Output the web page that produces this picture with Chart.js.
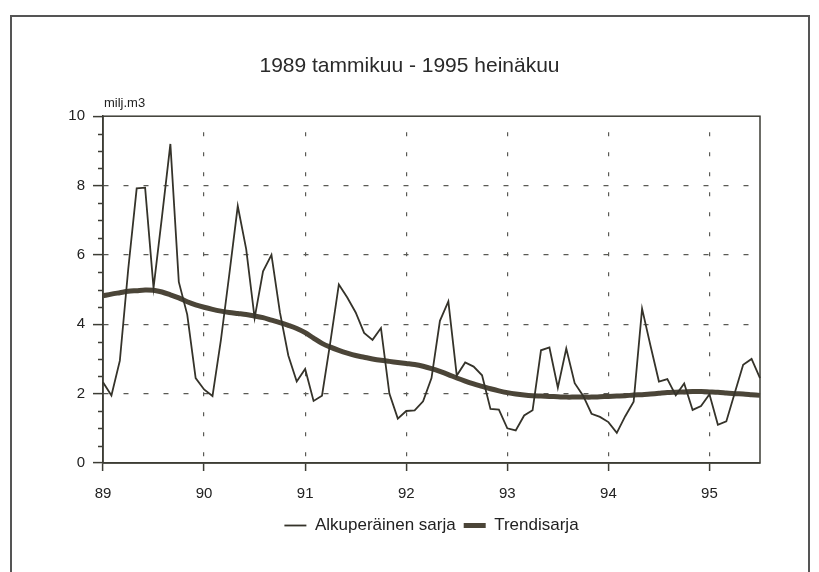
<!DOCTYPE html>
<html>
<head>
<meta charset="utf-8">
<script src="https://cdn.jsdelivr.net/npm/chart.js@4/dist/chart.umd.min.js"></script>
<style>
  html, body { margin: 0; padding: 0; background: #fff; overflow: hidden; }
  #wrap { position: relative; width: 819px; height: 572px; }
  canvas { position: absolute; left: 0; top: 0; }
  #frame { position: absolute; left: 10px; top: 15px; width: 796px; height: 620px;
           border: 2px solid #555; border-bottom: none; pointer-events: none; }
</style>
</head>
<body>
<div id="wrap">
  <canvas id="c" width="819" height="572"></canvas>
  <div id="frame"></div>
</div>
<script>
// ---- data ----
const titleText = '1989 tammikuu - 1995 heinäkuu';
const unitLabel = 'milj.m3';
const yearTicks = ['89', '90', '91', '92', '93', '94', '95'];
const seriesNames = ['Alkuperäinen sarja', 'Trendisarja'];
const monthsPerYear = 12;
const monthCount = 79; // 1989-01 .. 1995-07
const months = [];
for (let i = 0; i < monthCount; i++) {
  months.push(String(1989 + Math.floor(i / 12)) + '-' + String(i % 12 + 1).padStart(2, '0'));
}
const original = [
  2.33, 1.95, 2.95, 5.6, 7.92, 7.94, 5.05, 7.1, 9.2, 5.22,
  4.28, 2.45, 2.12, 1.93, 3.55, 5.45, 7.41, 6.17, 4.18, 5.53,
  6.0, 4.35, 3.1, 2.35, 2.71, 1.79, 1.94, 3.5, 5.15, 4.77,
  4.34, 3.75, 3.55, 3.89, 2.0, 1.28, 1.5, 1.52, 1.78, 2.45,
  4.1, 4.66, 2.52, 2.9, 2.78, 2.53, 1.56, 1.54, 1.0, 0.94,
  1.37, 1.52, 3.25, 3.33, 2.17, 3.3, 2.3, 1.94, 1.42, 1.33,
  1.18, 0.87, 1.35, 1.77, 4.45, 3.38, 2.35, 2.42, 1.95, 2.29,
  1.53, 1.64, 1.98, 1.1, 1.2, 2.02, 2.83, 3.0, 2.45
];
const trend = [
  4.82, 4.87, 4.91, 4.95, 4.97, 4.99, 4.98, 4.93, 4.85, 4.76,
  4.65, 4.56, 4.49, 4.43, 4.38, 4.34, 4.31, 4.28, 4.24, 4.19,
  4.12, 4.05, 3.97, 3.88, 3.76, 3.60, 3.45, 3.34, 3.25, 3.17,
  3.10, 3.05, 3.00, 2.96, 2.93, 2.90, 2.87, 2.84, 2.79, 2.72,
  2.64, 2.55, 2.45, 2.36, 2.28, 2.21, 2.14, 2.08, 2.03, 1.99,
  1.96, 1.94, 1.93, 1.92, 1.91, 1.90, 1.90, 1.90, 1.90, 1.91,
  1.92, 1.93, 1.94, 1.96, 1.97, 1.99, 2.01, 2.03, 2.04, 2.05,
  2.06, 2.06, 2.05, 2.04, 2.02, 2.00, 1.99, 1.97, 1.95
];
const yMin = 0, yMax = 10, yMinorStep = 0.5, yMajorStep = 2;

// ---- styles ----
const fam = "'Liberation Sans', Arial, Helvetica, sans-serif";
const axisColor = '#3d3d35';
const gridColor = '#5a5a55';
const textColor = '#222';
const thinColor = '#35332a';
const thickColor = '#4b4538';

const extras = {
  id: 'extras',
  beforeDatasetsDraw(chart) {
    const { ctx, chartArea: a, scales: { y } } = chart;
    ctx.save();
    ctx.strokeStyle = axisColor;
    ctx.lineWidth = 1.5;
    ctx.strokeRect(a.left, a.top, a.right - a.left, a.bottom - a.top);
    for (const t of y.ticks) {
      if (Math.abs(t.value % yMajorStep) > 1e-6) {
        const py = Math.round(y.getPixelForValue(t.value)) + 0.5;
        ctx.beginPath();
        ctx.moveTo(a.left - 5, py);
        ctx.lineTo(a.left, py);
        ctx.stroke();
      }
    }
    ctx.fillStyle = textColor;
    ctx.font = '13px ' + fam;
    ctx.textBaseline = 'middle';
    ctx.textAlign = 'left';
    ctx.fillText(unitLabel, a.left + 1, a.top - 13);
    ctx.restore();
  }
};

new Chart(document.getElementById('c'), {
  type: 'line',
  data: {
    labels: months,
    datasets: [
      { label: seriesNames[0], data: original, borderColor: thinColor, backgroundColor: thinColor,
        borderWidth: 1.8, pointRadius: 0, tension: 0, pointStyle: 'line' },
      { label: seriesNames[1], data: trend, borderColor: thickColor, backgroundColor: thickColor,
        borderWidth: 5, pointRadius: 0, tension: 0.3, pointStyle: 'line' }
    ]
  },
  options: {
    responsive: false,
    animation: false,
    devicePixelRatio: 1,
    layout: { padding: { left: 0, right: 0, top: 0, bottom: 28 } },
    plugins: {
      title: { display: true, text: titleText, color: '#2a2a2a', font: { family: fam, size: 21, weight: 'normal' },
               padding: { top: 54, bottom: 37 } },
      legend: {
        position: 'bottom',
        fullSize: false,
        labels: { usePointStyle: true, pointStyleWidth: 22, padding: 8, color: textColor,
                  font: { family: fam, size: 17 } }
      },
      tooltip: { enabled: false }
    },
    scales: {
      x: {
        type: 'category',
        offset: false,
        afterFit: s => { s.height = 46; },
        border: { display: true, color: axisColor, width: 1.5, dash: [4, 16], dashOffset: 4 },
        grid: {
          offset: false,
          color: c => (c.index % monthsPerYear === 0 && c.index > 0) ? gridColor : 'rgba(0,0,0,0)',
          tickColor: c => (c.index % monthsPerYear === 0) ? axisColor : 'rgba(0,0,0,0)',
          lineWidth: 1.2, tickWidth: 1.5, tickLength: 8
        },
        ticks: {
          autoSkip: false, maxRotation: 0, minRotation: 0, padding: 14, color: textColor,
          font: { family: fam, size: 15 },
          callback: (v, i) => (i % monthsPerYear === 0) ? yearTicks[i / monthsPerYear] : ''
        }
      },
      y: {
        min: yMin, max: yMax,
        afterFit: s => { s.width = 103; },
        border: { display: true, color: axisColor, width: 1.5, dash: [5, 15] },
        grid: {
          color: c => {
            const v = c.tick.value;
            return (Math.abs(v % yMajorStep) < 1e-6 && v > yMin && v < yMax) ? gridColor : 'rgba(0,0,0,0)';
          },
          tickColor: c => (Math.abs(c.tick.value % yMajorStep) < 1e-6) ? axisColor : 'rgba(0,0,0,0)',
          lineWidth: 1.2, tickWidth: 1.5, tickLength: 10
        },
        ticks: {
          stepSize: yMinorStep, autoSkip: false, padding: 8, color: textColor,
          font: { family: fam, size: 15 },
          callback: v => (Math.abs(v % yMajorStep) < 1e-6) ? String(v) : ''
        }
      },
      yRight: {
        position: 'right',
        min: yMin, max: yMax,
        afterFit: s => { s.width = 59; },
        border: { display: false },
        grid: { display: false, drawOnChartArea: false },
        ticks: { display: false }
      }
    }
  },
  plugins: [extras]
});
</script>
</body>
</html>
